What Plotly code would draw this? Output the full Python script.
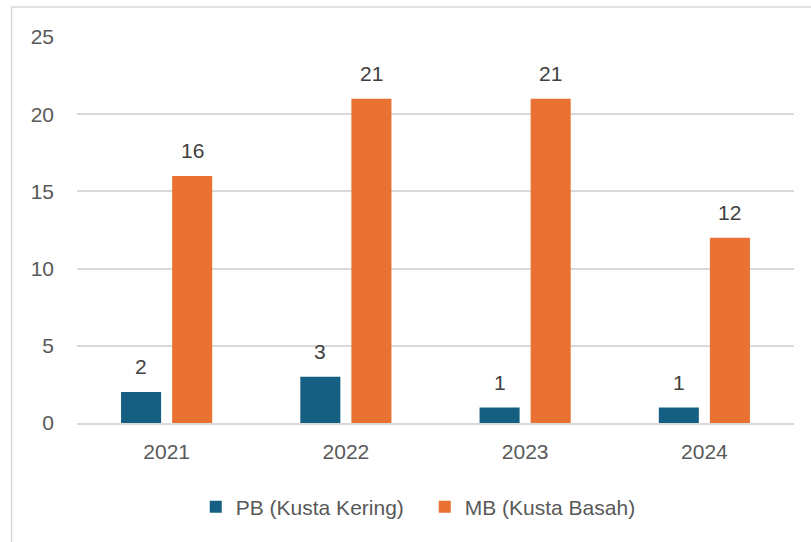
import plotly.graph_objects as go

years = ["2021", "2022", "2023", "2024"]
pb_values = [2, 3, 1, 1]
mb_values = [16, 21, 21, 12]
series_names = ["PB (Kusta Kering)", "MB (Kusta Basah)"]
y_ticks = [0, 5, 10, 15, 20, 25]

FONT = "Liberation Sans, Arial, sans-serif"
FS = 21
fig = go.Figure()
fig.add_trace(go.Bar(x=years, y=pb_values, name=series_names[0], marker_color="#156082",
                     marker_line_width=0))
fig.add_trace(go.Bar(x=years, y=mb_values, name=series_names[1], marker_color="#E97132",
                     marker_line_width=0))

annotations = []
for vals, dx in ((pb_values, -25.5), (mb_values, 25.5)):
    for i, v in enumerate(vals):
        annotations.append(dict(x=i, y=v, xref="x", yref="y", text=str(v), showarrow=False,
                                xshift=dx, yshift=12, yanchor="bottom",
                                font=dict(size=FS, color="#404040", family=FONT)))

fig.update_layout(
    width=811, height=542,
    margin=dict(l=77, r=17, t=37, b=119),
    paper_bgcolor="white", plot_bgcolor="white",
    barmode="group", bargap=0.43, bargroupgap=0.216,
    font=dict(family=FONT, size=FS, color="#595959"),
    showlegend=True,
    legend=dict(orientation="h", x=0.485, xanchor="center", y=-0.218, yanchor="middle",
                entrywidth=184, entrywidthmode="pixels",
                font=dict(size=FS, color="#595959"), traceorder="normal"),
    annotations=annotations,
    shapes=[dict(type="rect", xref="paper", yref="paper", x0=-0.0913, x1=1.2, y0=-0.5, y1=1.0777,
                 line=dict(color="#D9D9D9", width=1.5), fillcolor="rgba(0,0,0,0)", layer="below")],
)
fig.update_xaxes(type="category", categoryorder="array", categoryarray=years,
                 range=[-0.5, len(years) - 0.5],
                 showgrid=False, showline=True, linecolor="#D9D9D9", linewidth=1.5,
                 ticks="", ticklabelstandoff=9, tickfont=dict(size=FS, color="#595959"))
fig.update_yaxes(range=[0, 25], tickvals=y_ticks, showgrid=True, gridcolor="#D9D9D9", gridwidth=1.5,
                 zeroline=False, showline=False, ticks="", ticklabelstandoff=22,
                 tickfont=dict(size=FS, color="#595959"))
fig.write_html("out.html", post_script="document.body.style.margin='0';",
               config={"displayModeBar": False})
